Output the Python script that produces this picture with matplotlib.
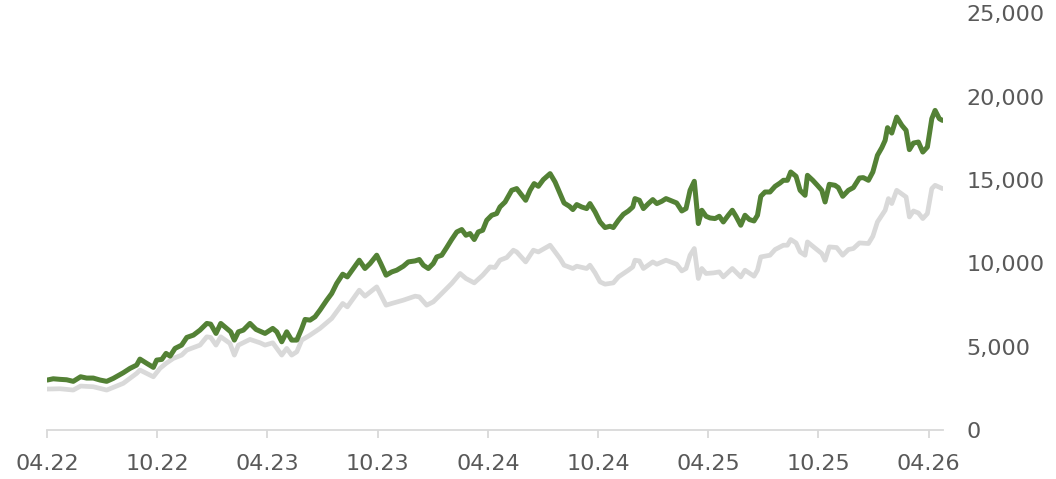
import matplotlib
matplotlib.use("Agg")
import matplotlib.pyplot as plt
from matplotlib.ticker import FuncFormatter

# months since April 2022
green_x = [0.02, 0.34, 0.71, 1.07, 1.43, 1.83, 2.16, 2.52, 2.89, 3.25, 3.61, 4.15, 4.52, 4.88, 5.06,
           5.43, 5.79, 5.97, 6.25, 6.48, 6.70, 6.97, 7.33, 7.61, 7.97, 8.33, 8.70, 8.91, 9.20, 9.46,
           9.78, 10.00, 10.20, 10.42, 10.69, 11.05, 11.38, 11.87, 12.29, 12.51, 12.78, 13.05, 13.32,
           13.60, 13.87, 14.05, 14.32, 14.59, 14.86, 15.23, 15.50, 15.77, 16.10, 16.35, 16.68, 17.00,
           17.31, 17.59, 17.95, 18.17, 18.46, 18.77, 19.04, 19.40, 19.67, 20.04, 20.27, 20.49, 20.76,
           21.03, 21.22, 21.49, 21.76, 22.03, 22.31, 22.58, 22.81, 23.03, 23.26, 23.48, 23.72, 23.94,
           24.21, 24.48, 24.66, 24.94, 25.30, 25.57, 25.85, 26.06, 26.30, 26.52, 26.75, 27.02, 27.39,
           27.66, 27.93, 28.15, 28.44, 28.63, 28.84, 29.11, 29.38, 29.56, 29.84, 30.11, 30.38, 30.65,
           30.83, 31.11, 31.38, 31.65, 31.89, 32.01, 32.25, 32.47, 32.74, 32.98, 33.20, 33.47, 33.70,
           33.92, 34.28, 34.56, 34.79, 35.01, 35.24, 35.46, 35.65, 35.88, 36.10, 36.37, 36.60, 36.82,
           37.09, 37.31, 37.51, 37.77, 38.00, 38.24, 38.49, 38.68, 38.86, 39.09, 39.36, 39.64, 39.91,
           40.09, 40.31, 40.49, 40.78, 41.00, 41.27, 41.40, 41.69, 41.94, 42.18, 42.36, 42.59, 42.90,
           43.08, 43.32, 43.63, 43.90, 44.23, 44.44, 44.72, 44.96, 45.21, 45.45, 45.63, 45.76, 45.99,
           46.26, 46.54, 46.77, 46.95, 47.17, 47.44, 47.68, 47.93, 48.17, 48.35, 48.58, 48.75]
green_y = [3000, 3075, 3040, 3015, 2920, 3195, 3117, 3117, 2998, 2920, 3099, 3435, 3699, 3897, 4256,
           3999, 3759, 4197, 4238, 4598, 4436, 4898, 5096, 5557, 5695, 5995, 6397, 6355, 5797, 6397,
           6097, 5893, 5396, 5893, 5995, 6397, 6037, 5797, 6097, 5893, 5294, 5893, 5396,
           5396, 6097, 6636, 6595, 6792, 7194, 7794, 8195, 8795, 9352, 9190, 9694, 10192,
           9694, 9994, 10491, 9994, 9292, 9490, 9592, 9832, 10090, 10150, 10233, 9892, 9694,
           9994, 10389, 10491, 10953, 11433, 11888, 12032, 11690, 11792, 11433, 11888, 11990, 12590,
           12889, 12991, 13387, 13687, 14388, 14490, 14088, 13789, 14388, 14790, 14628, 15029, 15389,
           14886, 14190, 13627, 13429, 13231, 13531, 13387, 13291, 13591, 13087, 12488, 12152, 12230,
           12152, 12590, 12949, 13147, 13387, 13890, 13789, 13291, 13591, 13830, 13591, 13729, 13890,
           13789, 13627, 13147, 13291, 14388, 14928, 12392, 13189, 12829, 12727, 12691, 12829, 12488,
           12889, 13189, 12829, 12290, 12889, 12632, 12548, 12889, 14028, 14286, 14286, 14628, 14826,
           14988, 14988, 15485, 15227, 14388, 14088, 15287, 14988, 14688, 14388, 13687, 14748, 14688,
           14550, 14028, 14388, 14550, 15126, 15149, 14988, 15485, 16486, 16948, 17386, 18147, 17823,
           18783, 18285, 17985, 16828, 17224, 17284, 16684, 16984, 18686, 19184, 18686, 18585]

gray_x = [0.02, 0.71, 1.43, 1.83, 2.52, 3.25, 4.15, 4.88, 5.06, 5.79, 6.15, 6.48, 6.88, 7.33, 7.61,
          8.33, 8.70, 8.91, 9.20, 9.46, 9.96, 10.20, 10.42, 11.05, 11.60, 11.87, 12.29, 12.78, 13.05,
          13.32, 13.60, 13.87, 14.32, 14.86, 15.50, 16.10, 16.35, 17.00, 17.31, 17.95, 18.46, 18.77,
          19.40, 20.04, 20.27, 20.67, 21.03, 21.49, 22.03, 22.49, 22.81, 23.26, 23.72, 24.12, 24.39,
          24.66, 25.03, 25.39, 25.57, 26.06, 26.48, 26.75, 27.39, 27.93, 28.15, 28.63, 28.84, 29.38,
          29.56, 29.84, 30.11, 30.38, 30.83, 31.11, 31.65, 31.89, 32.01, 32.25, 32.47, 32.98, 33.20,
          33.70, 34.28, 34.56, 34.79, 35.01, 35.24, 35.46, 35.65, 35.88, 36.28, 36.60, 36.82, 37.31,
          37.77, 38.00, 38.49, 38.68, 38.86, 39.36, 39.64, 40.09, 40.31, 40.49, 40.78, 41.00, 41.27,
          41.40, 41.69, 42.18, 42.36, 42.59, 42.99, 43.32, 43.63, 43.90, 44.23, 44.72, 44.96, 45.21,
          45.63, 45.81, 45.99, 46.26, 46.77, 46.95, 47.17, 47.44, 47.68, 47.93, 48.17, 48.35, 48.75]
gray_y = [2458, 2476, 2398, 2638, 2596, 2398, 2800, 3399, 3597, 3195, 3699, 3999, 4298, 4496, 4796,
          5096, 5593, 5557, 5096, 5593, 5198, 4496, 5096, 5437, 5234, 5096, 5234, 4496, 4898,
          4496, 4694, 5396, 5695, 6097, 6696, 7596, 7392, 8393, 8033, 8591, 7494, 7596,
          7794, 8033, 7991, 7494, 7692, 8195, 8795, 9394, 9094, 8831, 9292, 9790, 9754,
          10192, 10353, 10791, 10689, 10090, 10791, 10689, 11091, 10293, 9892, 9694, 9832, 9694,
          9892, 9430, 8891, 8753, 8831, 9190, 9592, 9790, 10192, 10150, 9694, 10090, 9952,
          10192, 9952, 9550, 9694, 10491, 10893, 9094, 9694, 9394, 9430, 9490, 9190, 9694,
          9190, 9592, 9232, 9592, 10389, 10491, 10833, 11091, 11091, 11433, 11229, 10689, 10491,
          11289, 11031, 10593, 10192, 10989, 10953, 10491, 10833, 10893, 11229, 11193, 11630, 12488,
          13189, 13890, 13591, 14388, 13987, 12787, 13147, 13027, 12691, 12991, 14490, 14688, 14490]

tick_months = [0, 6, 12, 18, 24, 30, 36, 42, 48]
tick_labels = ["04.22", "10.22", "04.23", "10.23", "04.24", "10.24", "04.25", "10.25", "04.26"]
y_ticks = [0, 5000, 10000, 15000, 20000, 25000]

TEXT = "#595959"
AXIS = "#d9d9d9"

plt.rcParams['font.family'] = ['DejaVu Sans']
fig = plt.figure(figsize=(10.56, 4.79), dpi=100)
ax = fig.add_axes([47/1056, 49/479, (943-47)/1056, (430-13.5)/479])

ax.plot(gray_x, gray_y, color="#d9d9d9", lw=3.4, solid_joinstyle="round", solid_capstyle="round", zorder=2)
ax.plot(green_x, green_y, color="#538135", lw=3.6, solid_joinstyle="round", solid_capstyle="round", zorder=3)

ax.set_xlim(0, 48.78)
ax.set_ylim(0, 25000)
ax.set_xticks(tick_months)
ax.set_xticklabels(tick_labels)
ax.set_yticks(y_ticks)
ax.yaxis.set_major_formatter(FuncFormatter(lambda v, p: f"{int(v):,}"))
ax.yaxis.tick_right()

for s in ["top", "left", "right"]:
    ax.spines[s].set_visible(False)
ax.spines["bottom"].set_color(AXIS)
ax.spines["bottom"].set_linewidth(1.3)

ax.tick_params(axis="x", colors=AXIS, length=6, width=1.3, pad=11, labelsize=16, labelcolor=TEXT)
ax.tick_params(axis="y", length=0, pad=17, labelsize=16, labelcolor=TEXT)
for lab in ax.get_yticklabels():
    lab.set_horizontalalignment("left")

fig.savefig("out.png", dpi=100)
